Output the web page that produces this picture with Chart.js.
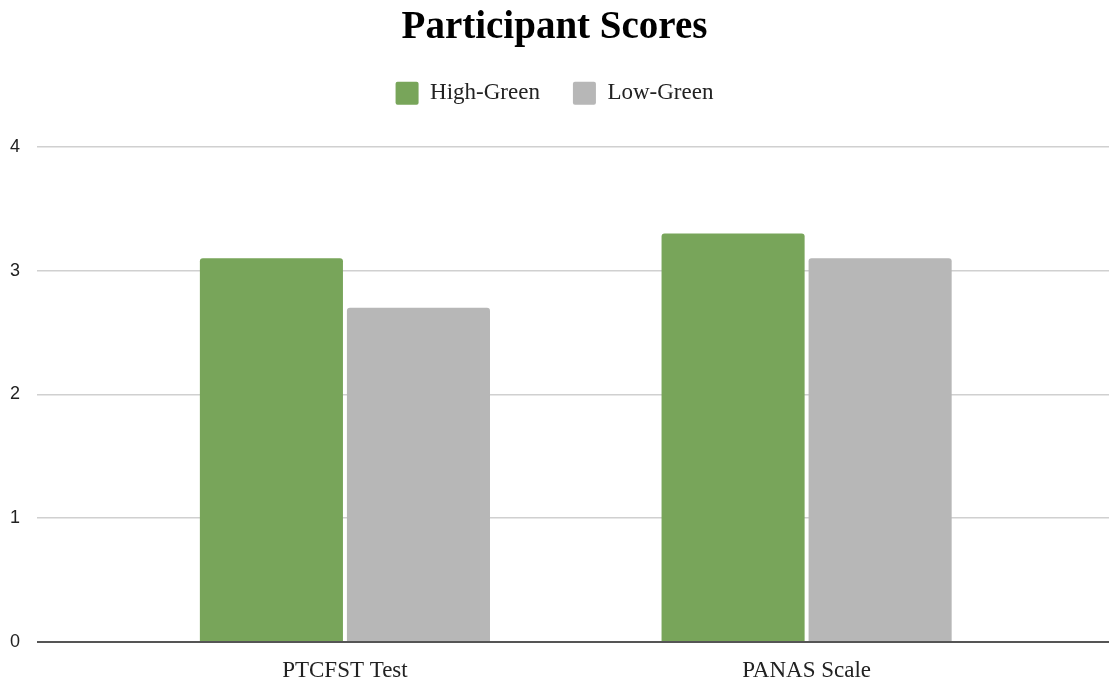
<!DOCTYPE html>
<html>
<head>
<meta charset="utf-8">
<script src="https://cdn.jsdelivr.net/npm/chart.js@4/dist/chart.umd.min.js"></script>
<style>
	html, body { margin: 0; padding: 0; background: #fff; }
	#wrap { width: 1109px; height: 684px; }
</style>
</head>
<body>
<div id="wrap"><canvas id="graph_scores"></canvas></div>
<script>
// chart data
var categories = ['PTCFST Test', 'PANAS Scale']
var highGreen = [3.1, 3.3]
var lowGreen = [2.7, 3.1]
var yTicks = [0, 1, 2, 3, 4]

function toPoints(values) {
	var pts = []
	for (var i = 0; i < values.length; i++) {
		pts.push({ x: i, y: values[i] })
	}
	return pts
}

var serif = '"Liberation Serif", "DejaVu Serif", serif'

// push the plot a bit further below the legend
var legendGap = {
	id: 'legendGap',
	beforeInit: function (chart) {
		var fit = chart.legend.fit
		chart.legend.fit = function () {
			fit.bind(chart.legend)()
			this.height += 32
		}
	}
}

var config = {
	type: 'bar',
	data: {
		datasets: [{
			label: 'High-Green',
			data: toPoints(highGreen),
			backgroundColor: '#78a55a',
			borderRadius: { topLeft: 3, topRight: 3 },
			borderSkipped: 'bottom'
		}, {
			label: 'Low-Green',
			data: toPoints(lowGreen),
			backgroundColor: '#b7b7b7',
			borderRadius: { topLeft: 3, topRight: 3 },
			borderSkipped: 'bottom'
		}]
	},
	plugins: [legendGap],
	options: {
		responsive: true,
		maintainAspectRatio: false,
		animation: false,
		categoryPercentage: 0.637,
		barPercentage: 0.973,
		layout: { padding: { left: 0, right: 0, top: 3, bottom: 0 } },
		plugins: {
			title: {
				display: true,
				text: 'Participant Scores',
				color: '#000',
				font: { family: serif, size: 39, weight: 'bold' },
				padding: { top: 2, bottom: -3 }
			},
			legend: {
				display: true,
				labels: {
					color: '#222',
					font: { family: serif, size: 23 },
					boxWidth: 23,
					boxHeight: 23,
					padding: 33,
					useBorderRadius: true,
					borderRadius: 2
				}
			},
			tooltip: { enabled: false }
		},
		scales: {
			x: {
				type: 'linear',
				offset: false,
				min: -0.667,
				max: 1.655,
				afterBuildTicks: function (scale) {
					scale.ticks = categories.map(function (c, i) { return { value: i } })
				},
				afterFit: function (scale) {
					scale.height = 42
				},
				ticks: {
					color: '#222',
					font: { family: serif, size: 23 },
					padding: 7,
					autoSkip: false,
					maxRotation: 0,
					callback: function (v) { return categories[v] }
				},
				grid: { display: false },
				border: { display: false }
			},
			y: {
				min: 0,
				max: 4,
				afterBuildTicks: function (scale) {
					scale.ticks = yTicks.map(function (v) { return { value: v } })
				},
				afterFit: function (scale) {
					scale.width = 37
				},
				ticks: {
					color: '#222',
					font: { family: '"Liberation Sans", Arial, sans-serif', size: 18 },
					padding: 17
				},
				grid: {
					color: function (ctx) { return ctx.tick && ctx.tick.value === 0 ? '#555' : '#d0d0d0' },
					lineWidth: function (ctx) { return ctx.tick && ctx.tick.value === 0 ? 2 : 1.5 },
					drawTicks: false
				},
				border: { display: false }
			}
		}
	}
}

window.scoresGraph = new Chart(document.getElementById('graph_scores'), config)
</script>
</body>
</html>
